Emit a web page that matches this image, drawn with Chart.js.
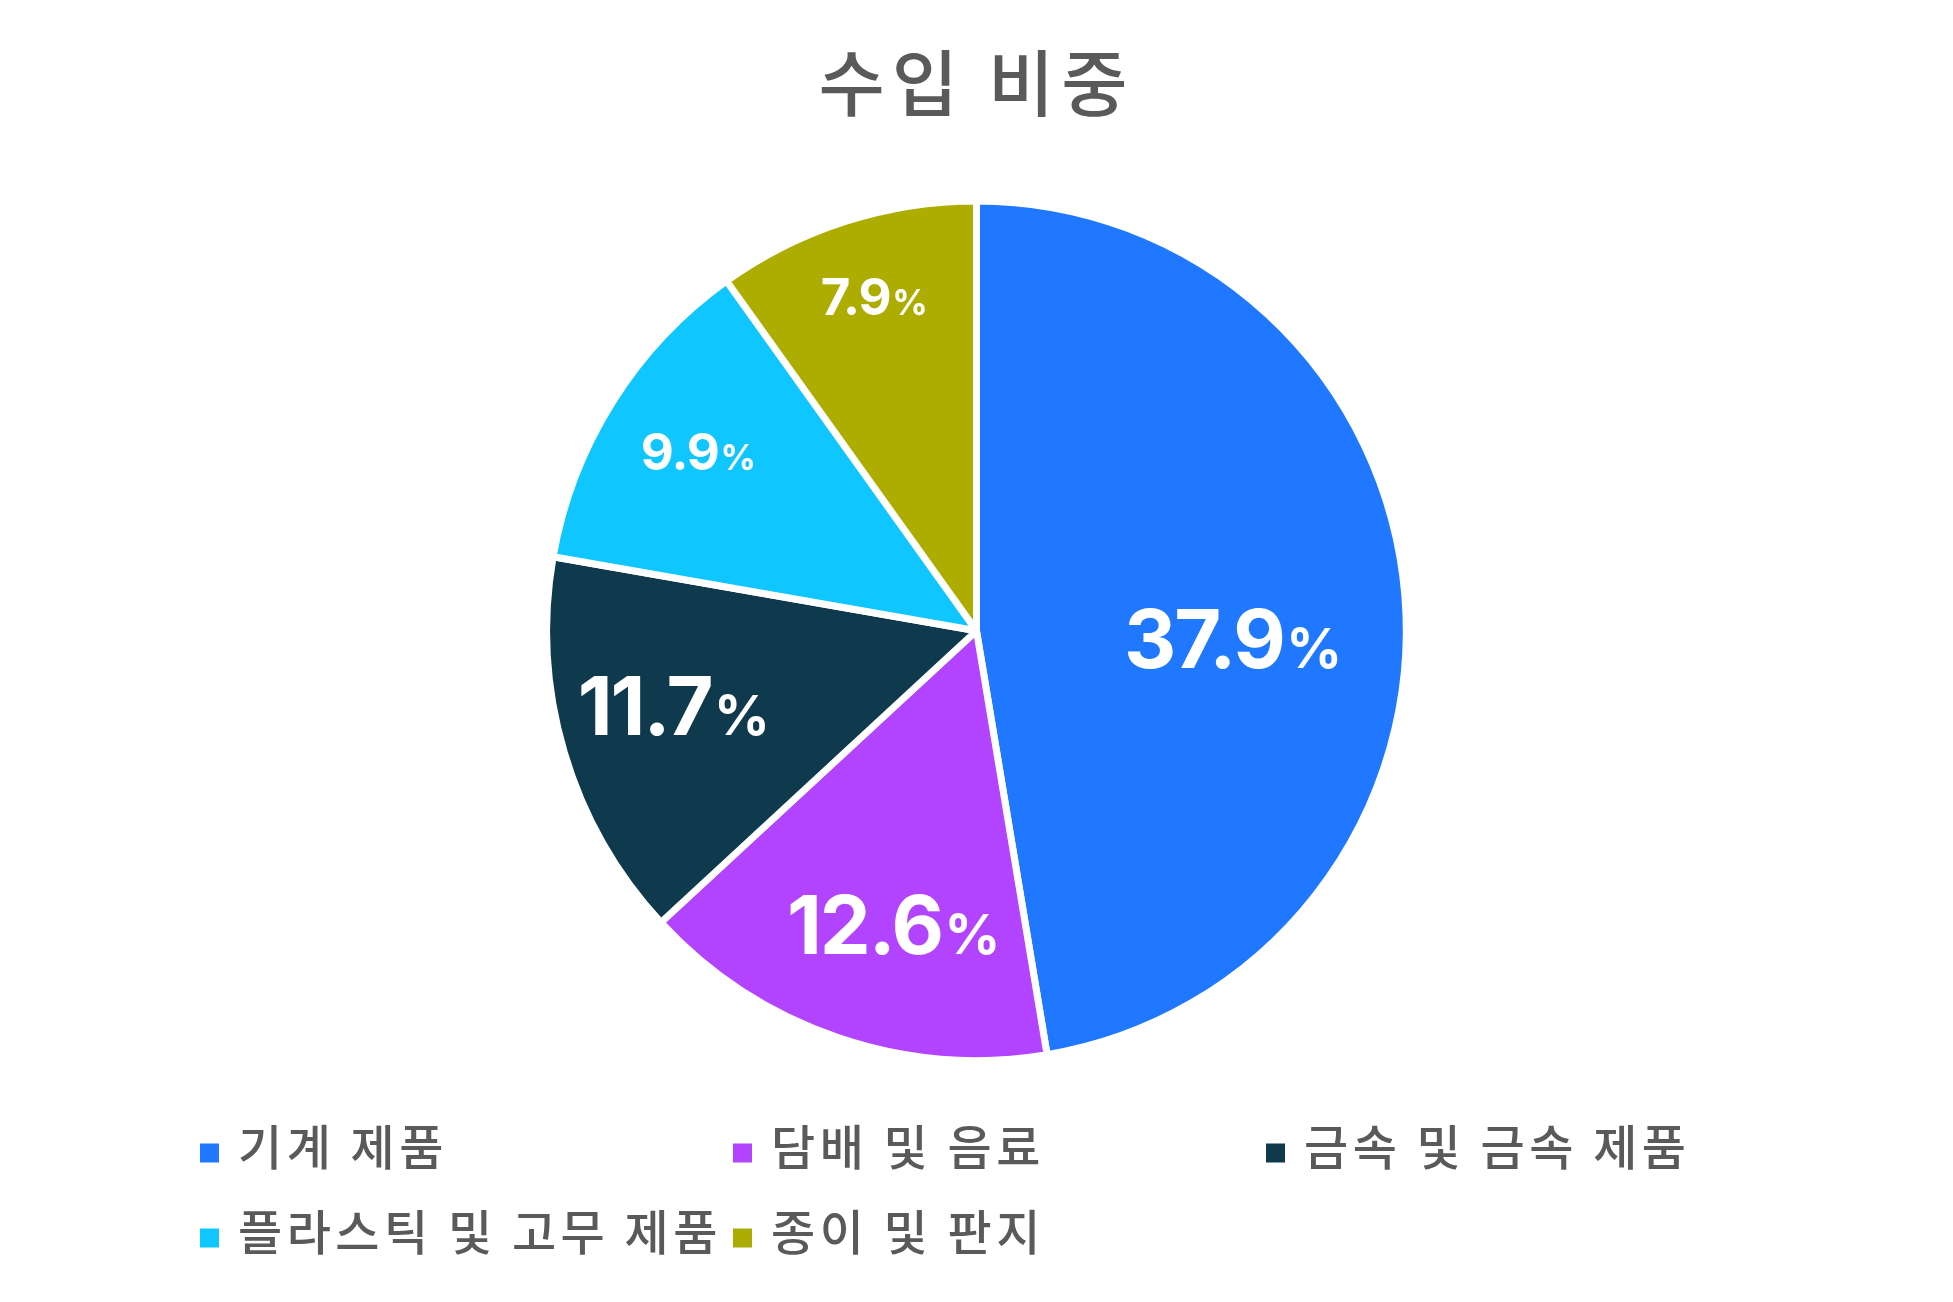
<!DOCTYPE html>
<html lang="ko">
<head>
<meta charset="utf-8">
<title>수입 비중</title>
<script src="https://cdn.jsdelivr.net/npm/chart.js@4.4.1/dist/chart.umd.min.js"></script>
<style>
    html, body { margin: 0; padding: 0; background: #fff; }
    canvas { display: block; }
</style>
</head>
<body>
<canvas id="chart-area1" width="1953" height="1302"></canvas>
<script>
// data
var chartTitle = '수입 비중';
var LabelN = ['기계 제품', '담배 및 음료', '금속 및 금속 제품', '플라스틱 및 고무 제품', '종이 및 판지'];
var ImportShare = [37.9, 12.6, 11.7, 9.9, 7.9];
var BGColor = ['#1f78ff', '#b244ff', '#0f394d', '#10c6ff', '#adac00'];

var textGray = '#5a5a5a';
var korFont = '"Noto Sans CJK KR", "Noto Sans", sans-serif';
var numFont = 'Inter, Lato, sans-serif';

// where each value label sits: fraction of radius, shift from the slice mid angle (deg)
var labelPlace = [[0.595, 6.5], [0.712, -3], [0.728, 2.5], [0.771, 0.6], [0.814, 0.7]];

// the reference font is set wider than Noto, so the title gets some tracking
var titleSpacing = {
    id: 'titleSpacing',
    beforeDraw: function (chart) { chart.ctx.letterSpacing = '7px'; },
    beforeDatasetsDraw: function (chart) { chart.ctx.letterSpacing = '0px'; }
};

var sliceLabels = {
    id: 'sliceLabels',
    afterDatasetsDraw: function (chart) {
        var ctx = chart.ctx;
        var meta = chart.getDatasetMeta(0);
        var data = chart.data.datasets[0].data;
        ctx.save();
        ctx.fillStyle = '#fff';
        ctx.textBaseline = 'alphabetic';
        ctx.textAlign = 'left';
        for (var i = 0; i < meta.data.length; i++) {
            var arc = meta.data[i];
            var p = labelPlace[i] || [0.7, 0];
            var mid = (arc.startAngle + arc.endAngle) / 2 + p[1] * Math.PI / 180;
            var r = arc.outerRadius * p[0];
            var cx = arc.x + r * Math.cos(mid);
            var cy = arc.y + r * Math.sin(mid);

            var size = data[i] >= 10 ? 81 : 51;
            var pctSize = Math.round(size * 0.68);
            var num = data[i].toFixed(1);
            ctx.letterSpacing = (data[i] >= 10 ? -2 : -1) + 'px';
            ctx.font = '700 ' + size + 'px ' + numFont;
            var w1 = ctx.measureText(num).width;
            ctx.font = '700 ' + pctSize + 'px ' + numFont;
            var w2 = ctx.measureText('%').width;
            var gap = size * 0.03;
            var x0 = cx - (w1 + gap + w2) / 2;
            var base = cy + size * 0.364;
            ctx.font = '700 ' + size + 'px ' + numFont;
            ctx.fillText(num, x0, base);
            ctx.font = '700 ' + pctSize + 'px ' + numFont;
            ctx.fillText('%', x0 + w1 + gap, base);
        }
        ctx.restore();
    }
};

// legend laid out in three fixed columns under the pie
var gridLegend = {
    id: 'gridLegend',
    afterDraw: function (chart) {
        var ctx = chart.ctx;
        var labels = chart.data.labels;
        var colors = chart.data.datasets[0].backgroundColor;
        var cols = 3, left = 200, colW = 533, top = 1153, rowH = 85, box = 19;
        ctx.save();
        ctx.font = '500 48px ' + korFont;
        ctx.letterSpacing = '4.5px';
        ctx.textBaseline = 'middle';
        ctx.textAlign = 'left';
        for (var i = 0; i < labels.length; i++) {
            var x = left + (i % cols) * colW;
            var y = top + Math.floor(i / cols) * rowH;
            ctx.fillStyle = colors[i];
            ctx.fillRect(x, y - box / 2, box, box);
            ctx.fillStyle = textGray;
            ctx.fillText(labels[i], x + 38, y - 6);
        }
        ctx.restore();
    }
};

var config = {
    type: 'pie',
    data: {
        labels: LabelN,
        datasets: [{
            data: ImportShare,
            backgroundColor: BGColor,
            borderColor: '#ffffff',
            borderWidth: 7,
            label: chartTitle
        }]
    },
    options: {
        responsive: false,
        devicePixelRatio: 1,
        animation: false,
        events: [],
        layout: {
            padding: { top: 0, left: 0, right: 0, bottom: 238 }
        },
        plugins: {
            legend: { display: false },
            tooltip: { enabled: false },
            title: {
                display: true,
                text: chartTitle,
                color: textGray,
                font: { family: korFont, size: 72, weight: '500' },
                padding: { top: 39, bottom: 72 }
            }
        }
    },
    plugins: [titleSpacing, sliceLabels, gridLegend]
};

var ctx = document.getElementById('chart-area1').getContext('2d');
var myPie = new Chart(ctx, config);
</script>
</body>
</html>
